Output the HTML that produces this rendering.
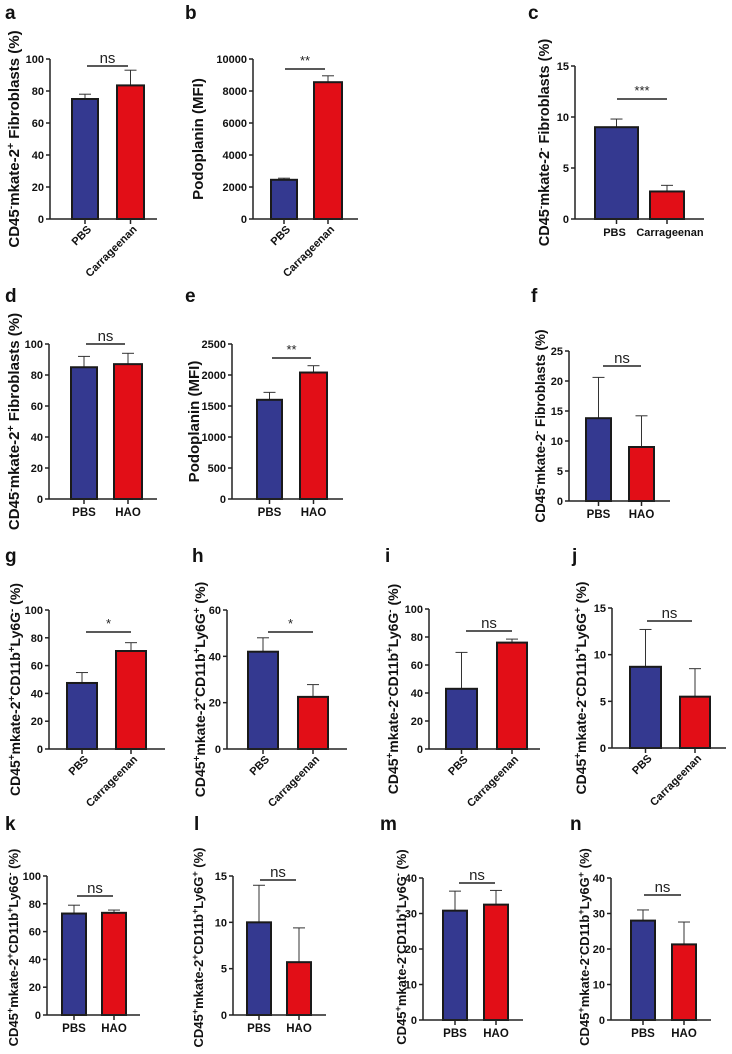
<!DOCTYPE html>
<html><head><meta charset="utf-8"><style>
html,body{margin:0;padding:0;background:#fff;}
svg{display:block;font-family:"Liberation Sans",Arial,sans-serif;}
</style></head><body>
<svg id="fig" width="732" height="1054" viewBox="0 0 732 1054" xmlns="http://www.w3.org/2000/svg"></svg>
<script>
// ---- data (mean values, error (SD), y ticks) ----
const groups_carr = ["PBS","Carrageenan"];
const groups_hao = ["PBS","HAO"];
const values_a=[75,83.5], errors_a=[3,9.5], ticks_a=[0,20,40,60,80,100];
const values_b=[2450,8550], errors_b=[100,400], ticks_b=[0,2000,4000,6000,8000,10000];
const values_c=[9,2.7], errors_c=[0.8,0.6], ticks_c=[0,5,10,15];
const values_d=[85,87], errors_d=[7,7], ticks_d=[0,20,40,60,80,100];
const values_e=[1600,2040], errors_e=[120,110], ticks_e=[0,500,1000,1500,2000,2500];
const values_f=[13.8,9], errors_f=[6.8,5.2], ticks_f=[0,5,10,15,20,25];
const values_g=[47.5,70.5], errors_g=[7.5,6], ticks_g=[0,20,40,60,80,100];
const values_h=[42,22.5], errors_h=[6,5.3], ticks_h=[0,20,40,60];
const values_i=[43,76], errors_i=[26,2.5], ticks_i=[0,20,40,60,80,100];
const values_j=[8.7,5.5], errors_j=[4,3], ticks_j=[0,5,10,15];
const values_k=[73,73.5], errors_k=[6,2], ticks_k=[0,20,40,60,80,100];
const values_l=[10,5.7], errors_l=[4,3.7], ticks_l=[0,5,10,15];
const values_m=[30.8,32.5], errors_m=[5.5,4], ticks_m=[0,10,20,30,40];
const values_n=[28,21.3], errors_n=[3,6.3], ticks_n=[0,10,20,30,40];
const sig_labels=["ns","**","***","ns","**","ns","*","*","ns","ns","ns","ns","ns","ns"];

const T_fib_pos=[["CD45",0],["-",1],["mkate-2",0],["+",1],[" Fibroblasts (%)",0]];
const T_fib_neg=[["CD45",0],["-",1],["mkate-2",0],["-",1],[" Fibroblasts (%)",0]];
const T_pdpn=[["Podoplanin (MFI)",0]];
function T_cd(m,l){return [["CD45",0],["+",1],["mkate-2",0],[m,1],["CD11b",0],["+",1],["Ly6G",0],[l,1],[" (%)",0]];}

const NS="http://www.w3.org/2000/svg";
const svg=document.getElementById('fig');
function mk(tag,attrs,parent){const e=document.createElementNS(NS,tag);for(const k in attrs)e.setAttribute(k,attrs[k]);(parent||svg).appendChild(e);return e;}

const panels=[
 {id:'a',lx:5,ly:19,vals:values_a,errs:errors_a,ticks:ticks_a,g:groups_carr,rot:true,ax:50,top:59,bot:219,end:157,bars:[[71,99],[116,145]],sig:[87,128,66],title:T_fib_pos,tx:14,tfs:15,dy:0},
 {id:'b',lx:185,ly:19,vals:values_b,errs:errors_b,ticks:ticks_b,g:groups_carr,rot:true,ax:253,top:59,bot:219,end:358,bars:[[270,298],[313,343]],sig:[285,325,69],title:T_pdpn,tx:198,tfs:15,dy:0},
 {id:'c',lx:528,ly:19,vals:values_c,errs:errors_c,ticks:ticks_c,g:groups_carr,rot:false,ax:575,top:66,bot:219,end:704,bars:[[594,639],[649,685]],sig:[617,667,99],title:T_fib_neg,tx:544,tfs:14.5,dy:0},
 {id:'d',lx:5,ly:302,vals:values_d,errs:errors_d,ticks:ticks_d,g:groups_hao,rot:false,ax:49,top:344,bot:499,end:157,bars:[[70,98],[113,143]],sig:[86,125,344],title:T_fib_pos,tx:14,tfs:15,dy:0},
 {id:'e',lx:185,ly:302,vals:values_e,errs:errors_e,ticks:ticks_e,g:groups_hao,rot:false,ax:232,top:344,bot:499,end:343,bars:[[256,283],[299,328]],sig:[272,311,358],title:T_pdpn,tx:194,tfs:15,dy:0},
 {id:'f',lx:531,ly:302,vals:values_f,errs:errors_f,ticks:ticks_f,g:groups_hao,rot:false,ax:569,top:351,bot:501,end:670,bars:[[585,612],[628,655]],sig:[603,641,366],title:T_fib_neg,tx:540,tfs:13.5,dy:0},
 {id:'g',lx:5,ly:562,vals:values_g,errs:errors_g,ticks:ticks_g,g:groups_carr,rot:true,ax:49,top:610,bot:749,end:165,bars:[[66,98],[115,147]],sig:[86,131,632],title:T_cd('+','-'),tx:15,tfs:14,dy:10},
 {id:'h',lx:192,ly:562,vals:values_h,errs:errors_h,ticks:ticks_h,g:groups_carr,rot:true,ax:227,top:610,bot:749,end:347,bars:[[247,279],[297,329]],sig:[268,313,632],title:T_cd('+','+'),tx:200,tfs:14,dy:10},
 {id:'i',lx:385,ly:562,vals:values_i,errs:errors_i,ticks:ticks_i,g:groups_carr,rot:true,ax:429,top:609,bot:749,end:540,bars:[[445,478],[496,528]],sig:[466,512,631],title:T_cd('-','-'),tx:393,tfs:14,dy:10},
 {id:'j',lx:572,ly:562,vals:values_j,errs:errors_j,ticks:ticks_j,g:groups_carr,rot:true,ax:612,top:608,bot:748,end:726,bars:[[629,662],[679,711]],sig:[647,692,621],title:T_cd('-','+'),tx:581,tfs:14,dy:10},
 {id:'k',lx:5,ly:830,vals:values_k,errs:errors_k,ticks:ticks_k,g:groups_hao,rot:false,ax:47,top:876,bot:1015,end:140,bars:[[61,87],[101,127]],sig:[77,113,896],title:T_cd('+','-'),tx:13,tfs:13,dy:2},
 {id:'l',lx:194,ly:830,vals:values_l,errs:errors_l,ticks:ticks_l,g:groups_hao,rot:false,ax:233,top:876,bot:1015,end:326,bars:[[246,272],[286,312]],sig:[260,296,880],title:T_cd('+','+'),tx:198,tfs:13,dy:2},
 {id:'m',lx:380,ly:830,vals:values_m,errs:errors_m,ticks:ticks_m,g:groups_hao,rot:false,ax:423,top:878,bot:1020,end:523,bars:[[442,468],[483,509]],sig:[459,495,883],title:T_cd('-','-'),tx:401,tfs:13,dy:-2},
 {id:'n',lx:570,ly:830,vals:values_n,errs:errors_n,ticks:ticks_n,g:groups_hao,rot:false,ax:611,top:878,bot:1020,end:711,bars:[[630,656],[671,697]],sig:[644,681,895],title:T_cd('-','+'),tx:584,tfs:13,dy:-2}
];
const colors=['#343990','#e20e17'];

panels.forEach((p,pi)=>{
  const G=mk('g',{});
  
  
  const tmax=p.ticks[p.ticks.length-1];
  const y=v=>p.bot-(v/tmax)*(p.bot-p.top);
  const L=mk('text',{x:p.lx,y:p.ly,'font-size':19,'font-weight':'bold',fill:'#111'},G);
  L.textContent=p.id;
  
  
  p.vals.forEach((v,i)=>{
    const [x0,x1]=p.bars[i];
    const cx=(x0+x1)/2;
    const eb=mk('line',{x1:cx,x2:cx,y1:y(v),y2:y(v+p.errs[i]),stroke:'#333','stroke-width':1},G);
    
    
    const cap=mk('line',{x1:cx-6,x2:cx+6,y1:y(v+p.errs[i]),y2:y(v+p.errs[i]),stroke:'#333','stroke-width':1},G);
    
    
    const r=mk('rect',{x:x0+1,y:y(v),width:x1-x0-2,height:p.bot-y(v),fill:colors[i],stroke:'#1a1a1a','stroke-width':2},G);
    
    
    mk('line',{x1:cx,x2:cx,y1:p.bot,y2:p.bot+5,stroke:'#222','stroke-width':1.5},G);
    const xt=mk('text',{'font-size':p.rot?11:(p.id==='c'?11:11.5),'font-weight':'bold',fill:'#111'},G);
    xt.textContent=p.g[i];
    
    
    if(p.rot){xt.setAttribute('text-anchor','end');xt.setAttribute('transform','translate('+(cx+7)+','+(p.bot+11)+') rotate(-45)');}
    else{xt.setAttribute('text-anchor','middle');xt.setAttribute('x',cx+(p.id==='c'?(i?3:-2):0));xt.setAttribute('y',p.bot+17);}
  });
  const ya=mk('line',{x1:p.ax,x2:p.ax,y1:p.top,y2:p.bot,stroke:'#222','stroke-width':1.5},G);
  
  
  const xa=mk('line',{x1:p.ax,x2:p.end,y1:p.bot,y2:p.bot,stroke:'#222','stroke-width':1.5},G);
  
  
  p.ticks.forEach(t=>{
    mk('line',{x1:p.ax-4,x2:p.ax,y1:y(t),y2:y(t),stroke:'#222','stroke-width':1.5},G);
    const tt=mk('text',{x:p.ax-6,y:y(t)+4,'font-size':11,'font-weight':'bold','text-anchor':'end',fill:'#111'},G);
    tt.textContent=t;
    
    
  });
  const [s0,s1,sy]=p.sig;
  mk('line',{x1:s0,x2:s1,y1:sy,y2:sy,stroke:'#222','stroke-width':1.5},G);
  const sl=sig_labels[pi];
  const st=mk('text',{x:(s0+s1)/2,y:sl==='ns'?sy-3:sy-4,'font-size':sl==='ns'?15:13,'text-anchor':'middle',fill:'#222'},G);
  st.textContent=sl;
  
  
  const cy=(p.top+p.bot)/2+p.dy;
  const yt=mk('text',{'font-size':p.tfs,'font-weight':'bold','text-anchor':'middle',fill:'#111',transform:'translate('+(p.tx+5)+','+cy+') rotate(-90)'},G);
  
  
  p.title.forEach(([s,m],k)=>{
    const ts=mk('tspan',{},yt);
    if(m===1){ts.setAttribute('dy',-5);ts.setAttribute('font-size',p.tfs*0.7);}
    else if(k>0&&p.title[k-1][1]===1){ts.setAttribute('dy',5);}
    ts.textContent=s;
  });
});
</script>
</body></html>
